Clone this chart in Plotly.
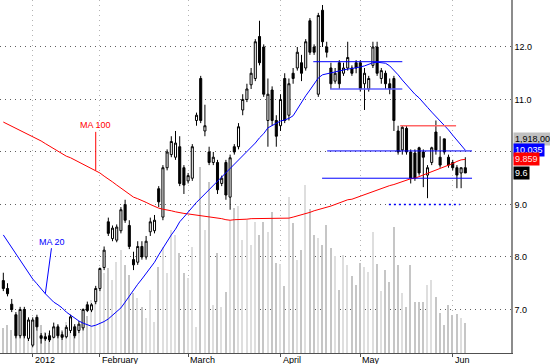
import plotly.graph_objects as go

# ---------------- data ----------------
opens = [7.55,7.40,7.10,6.90,6.50,7.00,6.45,6.32,6.85,6.50,
6.48,6.50,6.47,6.67,6.52,6.48,6.60,6.67,6.60,6.65,
7.09,6.99,7.15,7.40,7.80,8.67,8.35,8.32,8.50,9.00,
8.60,7.95,7.90,8.20,8.00,8.48,8.50,9.30,8.76,9.70,
9.95,9.90,10.10,9.70,9.45,9.50,10.60,11.40,10.40,10.00,
9.80,9.80,9.40,9.80,9.14,10.10,10.10,10.80,11.00,11.28,
11.40,12.20,12.00,10.60,11.18,10.60,10.50,11.40,10.70,11.50,
11.60,11.70,11.60,12.50,12.00,11.10,12.70,12.00,11.60,11.35,
11.70,11.50,11.60,11.60,11.70,11.70,11.30,11.20,11.65,12.00,
11.40,11.50,11.30,11.40,10.40,10.04,10.45,10.00,9.98,10.08,
10.00,9.56,9.80,10.38,9.90,10.25,9.90,9.80,9.70,9.60,9.70]
highs = [7.70,7.50,7.20,6.95,7.05,7.05,6.85,6.85,6.90,6.55,
6.55,6.60,6.75,6.72,6.58,6.70,6.90,6.72,6.78,7.02,
7.15,7.12,7.45,7.80,8.20,8.75,8.60,8.62,8.95,9.09,
8.70,8.10,8.30,8.30,8.40,8.75,8.80,9.35,9.75,10.05,
10.30,10.40,10.30,9.75,9.60,10.15,10.75,11.45,10.90,10.10,
10.00,9.85,9.55,9.85,9.95,10.15,10.55,11.10,11.30,11.60,
12.15,12.50,12.05,11.40,11.25,10.70,11.10,11.50,11.40,11.60,
12.00,11.85,12.15,12.55,12.05,12.65,12.80,12.10,11.70,11.60,
11.75,11.70,12.10,11.65,11.75,11.75,11.60,11.45,12.10,12.10,
11.60,11.55,11.40,11.45,10.50,10.50,10.50,10.05,10.05,10.10,
10.05,9.75,10.10,10.60,10.30,10.25,9.95,9.85,9.75,9.70,9.90]
lows = [7.35,7.25,6.95,6.45,6.45,6.45,6.40,6.28,6.60,6.35,
6.40,6.38,6.45,6.45,6.42,6.45,6.55,6.45,6.55,6.60,
6.95,6.95,7.10,7.35,7.75,8.40,8.30,8.28,8.45,8.65,
8.15,7.75,7.85,7.95,7.95,8.40,8.45,8.95,8.70,9.65,
9.90,9.85,9.35,9.20,9.40,9.45,10.50,10.55,10.30,9.75,
9.75,9.20,9.35,9.09,8.90,9.95,10.05,10.70,10.95,11.20,
11.35,11.65,11.05,10.10,10.50,10.10,10.40,10.55,10.60,11.30,
11.55,11.35,11.55,11.85,11.85,11.05,12.00,11.80,11.20,11.30,
11.20,11.45,11.55,11.45,11.50,11.15,10.80,11.15,11.60,11.45,
11.30,11.20,11.10,10.40,9.95,9.95,9.95,9.40,9.45,9.55,
9.33,9.12,9.75,9.95,9.70,9.95,9.70,9.65,9.31,9.31,9.60]
closes = [7.40,7.30,7.00,6.50,7.00,6.50,6.80,6.80,6.67,6.45,
6.44,6.42,6.67,6.50,6.47,6.66,6.86,6.50,6.72,7.00,
6.98,7.09,7.40,7.78,8.13,8.45,8.55,8.57,8.90,8.70,
8.20,7.85,8.20,8.00,8.30,8.67,8.70,9.05,9.70,10.00,
10.20,10.17,9.40,9.37,9.55,10.10,10.70,10.60,10.50,9.80,
9.90,9.28,9.50,9.18,9.89,10.00,10.48,11.00,11.20,11.50,
12.10,11.70,11.10,11.10,10.60,10.30,11.00,10.60,11.30,11.40,
11.90,11.50,12.10,11.90,11.90,12.60,12.10,11.90,11.30,11.50,
11.30,11.60,11.80,11.50,11.60,11.20,11.50,11.40,12.00,11.50,
11.55,11.30,11.20,10.60,10.00,10.47,10.00,9.50,9.50,9.60,
9.90,9.70,10.08,10.04,9.75,10.00,9.75,9.70,9.56,9.70,9.60]
volume_k = [496,556,456,516,615,456,536,655,456,556,
417,397,516,556,456,615,655,357,456,813,
734,1052,1250,1349,1587,1686,1448,1805,2043,1746,
1548,1190,1091,913,694,1250,615,1706,2103,1587,
2440,2341,1984,1587,1488,2103,516,3690,2440,3393,
952,1984,913,1210,2639,2877,2916,2242,2639,2143,
2599,2341,2599,2401,2797,1786,1766,1329,3095,2579,
1845,2043,3333,2857,2341,2282,2143,2540,2083,1924,
1250,1944,1746,1528,1349,1786,1706,1607,2401,1766,
1230,1647,1409,2500,1746,1190,913,1746,1012,1012,
1012,1349,1448,1111,794,556,952,754,774,694,595]
ma20 = [8.42,8.30,8.18,8.06,7.93,7.81,7.70,7.58,7.49,7.39,
7.30,7.22,7.14,7.09,7.03,6.95,6.89,6.83,6.78,6.74,
6.71,6.68,6.70,6.73,6.77,6.82,6.89,6.95,7.03,7.14,
7.26,7.37,7.48,7.58,7.68,7.78,7.90,8.04,8.17,8.30,
8.42,8.53,8.67,8.76,8.86,8.95,9.04,9.12,9.20,9.29,
9.37,9.45,9.52,9.62,9.70,9.77,9.85,9.93,10.02,10.10,
10.17,10.27,10.35,10.46,10.50,10.55,10.59,10.61,10.64,10.69,
10.82,10.95,11.07,11.18,11.30,11.41,11.47,11.49,11.50,11.52,
11.55,11.56,11.58,11.59,11.60,11.62,11.64,11.67,11.70,11.71,
11.70,11.69,11.64,11.56,11.47,11.37,11.28,11.18,11.10,11.03,
10.93,10.85,10.76,10.68,10.60,10.51,10.42,10.32,10.23,10.13,10.035]
ma100 = [10.57,10.53,10.50,10.46,10.42,10.38,10.34,10.30,10.26,10.21,
10.16,10.11,10.07,10.02,9.97,9.92,9.89,9.85,9.80,9.76,
9.72,9.69,9.65,9.60,9.54,9.49,9.43,9.37,9.31,9.26,
9.20,9.14,9.11,9.08,9.04,9.00,8.96,8.93,8.91,8.90,
8.88,8.86,8.84,8.83,8.82,8.81,8.80,8.79,8.78,8.77,
8.76,8.75,8.73,8.71,8.70,8.71,8.71,8.72,8.72,8.73,
8.73,8.74,8.74,8.74,8.74,8.74,8.74,8.74,8.74,8.76,
8.78,8.80,8.83,8.85,8.88,8.90,8.92,8.94,8.97,9.00,
9.03,9.06,9.09,9.10,9.13,9.16,9.19,9.22,9.25,9.28,
9.31,9.33,9.36,9.38,9.41,9.43,9.46,9.49,9.50,9.53,
9.56,9.59,9.62,9.66,9.69,9.72,9.75,9.78,9.82,9.85,9.859]

tick_idx = [7, 23, 44, 66, 85, 107]
tick_text = ["2012", "February", "March", "April", "May", "Jun"]
price_ticks = [7, 8, 9, 10, 11, 12]
price_tick_text = ["7.0", "8.0", "9.0", "", "11.0", "12.0"]

# drawn levels: (price, start index, end index, color, width, dash)
levels = [
    (11.72, 73.8, 95.0, "#0000ff", 1, "solid"),
    (11.20, 77.8, 95.0, "#6060ff", 1.6, "solid"),
    (10.50, 94.5, 107.8, "#ff6666", 1.6, "solid"),
    (10.02, 77.1, 111.6, "#0000ff", 1, "solid"),
    (9.50, 75.9, 111.6, "#0000ff", 1, "solid"),
    (9.00, 91.8, 108.7, "#0000ff", 1.5, "2px,3px"),
]

last_volume_text = "1,918,000"

# ---------------- figure ----------------
idx = list(range(len(closes)))
up = [c >= o for o, c in zip(opens, closes)]
vol_colors = ["#dedede" if u else "#c6c6c6" for u in up]

fig = go.Figure()
fig.add_trace(go.Bar(x=idx, y=volume_k, width=0.36, marker=dict(color=vol_colors, line=dict(width=0)),
                     yaxis="y", showlegend=False, hoverinfo="skip"))
fig.add_trace(go.Scatter(x=idx, y=ma100, mode="lines", line=dict(color="#ff0000", width=1),
                         yaxis="y2", showlegend=False))
fig.add_trace(go.Scatter(x=idx, y=ma20, mode="lines", line=dict(color="#0000ff", width=1),
                         yaxis="y2", showlegend=False))
fig.add_trace(go.Candlestick(x=idx, open=opens, high=highs, low=lows, close=closes,
                             increasing=dict(line=dict(color="black", width=1), fillcolor="white"),
                             decreasing=dict(line=dict(color="black", width=1), fillcolor="black"),
                             whiskerwidth=0, yaxis="y2", showlegend=False))

for p, x0, x1, col, w, dash in levels:
    fig.add_shape(type="line", xref="x", yref="y2", x0=x0, x1=x1, y0=p, y1=p,
                  line=dict(color=col, width=w, dash=dash))

font = "Arial"
fs = 9

# x labels, left-aligned at the tick
for t, s in zip(tick_idx, tick_text):
    fig.add_annotation(x=t, y=0, xref="x", yref="paper", text=s, showarrow=False,
                       xanchor="left", yanchor="top", xshift=0, yshift=0,
                       font=dict(family=font, size=fs, color="black"))

# MA labels
fig.add_annotation(x=22, y=ma100[22], xref="x", yref="y2", text="MA 100", showarrow=True,
                   arrowhead=0, arrowwidth=1, arrowcolor="#ff0000", ax=0, ay=-45,
                   font=dict(family=font, size=fs, color="#ff0000"))
fig.add_annotation(x=10, y=ma20[10], xref="x", yref="y2", text="MA 20", showarrow=True,
                   arrowhead=0, arrowwidth=1, arrowcolor="#0000ff", ax=7, ay=-52,
                   font=dict(family=font, size=fs, color="#0000ff"))

# right value boxes
boxes = [
    (10.25, last_volume_text, "#c0c0c0", "black"),
    (ma20[-1], "%.3f" % ma20[-1], "#0000ff", "white"),
    (ma100[-1], "%.3f" % ma100[-1], "#ff0000", "#ffe0e0"),
    (closes[-1], "%.1f" % closes[-1], "#000000", "white"),
]
for yv, txt, bg, fc in boxes:
    fig.add_annotation(x=1, y=yv, xref="paper", yref="y2", text=txt, showarrow=False,
                       xanchor="left", yanchor="middle", xshift=2, bgcolor=bg, borderpad=1,
                       font=dict(family=font, size=fs, color=fc))

fig.update_layout(
    width=550, height=364,
    margin=dict(l=0, r=39, t=0, b=11),
    paper_bgcolor="white", plot_bgcolor="white",
    showlegend=False,
    bargap=0,
    xaxis=dict(range=[-0.79, 120.88], tickvals=tick_idx, ticktext=[""] * len(tick_idx),
               showgrid=True, gridcolor="#b4b4b4", griddash="1px,4px", gridwidth=1,
               showline=True, linecolor="#505050", linewidth=1,
               ticks="outside", ticklen=3, tickcolor="#505050",
               rangeslider=dict(visible=False), zeroline=False, fixedrange=True),
    yaxis=dict(range=[0, 7000], visible=False, showgrid=False, fixedrange=True),
    yaxis2=dict(range=[6.171, 12.895], overlaying="y", side="right",
                tickvals=price_ticks, ticktext=price_tick_text,
                showgrid=True, gridcolor="#606060", griddash="1px,4px", gridwidth=1,
                showline=True, linecolor="#8c8c8c", linewidth=1.5,
                ticks="", tickfont=dict(family=font, size=fs, color="black"),
                zeroline=False, fixedrange=True),
)

fig.write_html("out.html", config={"displayModeBar": False},
               post_script="document.body.style.margin='0';document.body.style.overflow='hidden';")
